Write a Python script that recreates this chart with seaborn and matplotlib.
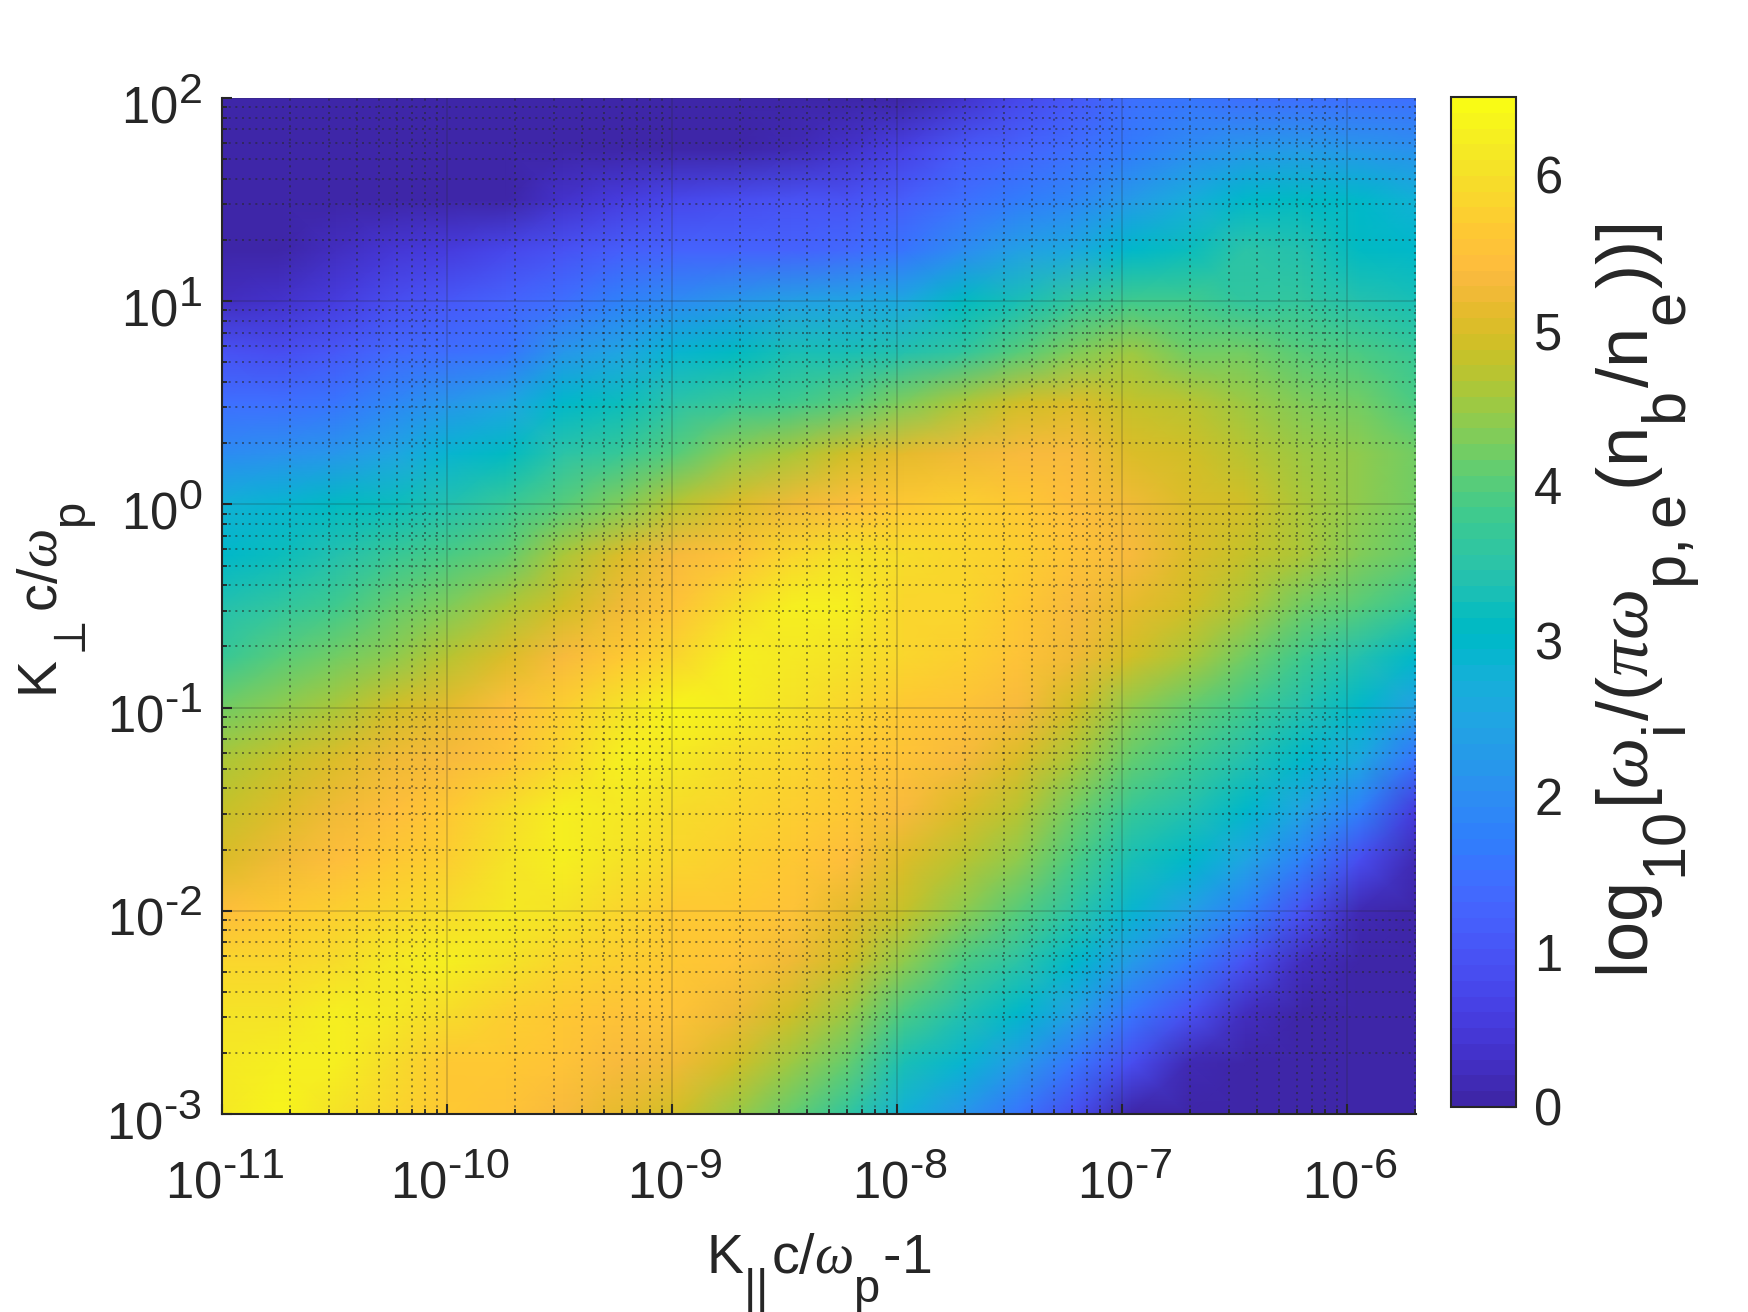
import numpy as np
import matplotlib
matplotlib.use("Agg")
import matplotlib.pyplot as plt
import matplotlib._mathtext as mathtext_internals
from matplotlib.colors import ListedColormap
from matplotlib.transforms import ScaledTranslation
import seaborn as sns

# log10 of the x and y ranges that the read positions span evenly
x_first, x_last = -11.0, -5.693
y_first, y_last = -3.0, 2.0

# colour value: each row runs left to right, rows bottom to top
row_m300 = [6.1,6.3,6.0,5.8,5.6,5.5,5.3,5.1,4.9,4.5,4.1,3.6,2.8,2.2,1.6,0.9,0.1,0,0,0,0,0]
row_m275 = [6.1,6.2,6.2,5.9,5.6,5.6,5.5,5.3,5.2,4.9,4.5,4.1,3.3,2.9,2.3,1.6,0.9,0.2,0,0,0,0]
row_m250 = [6.0,6.0,6.2,6.1,5.9,5.7,5.6,5.5,5.5,5.2,4.9,4.5,3.9,3.4,3.0,2.4,1.6,1.0,0.3,0,0,0]
row_m225 = [5.8,5.8,5.9,6.1,6.2,6.0,5.8,5.7,5.6,5.5,5.2,4.9,4.4,3.9,3.5,3.0,2.3,1.7,1.0,0.3,0,0]
row_m200 = [5.4,5.6,5.7,5.8,5.9,6.1,6.0,5.8,5.6,5.6,5.5,5.1,4.8,4.4,4.0,3.5,2.9,2.4,1.8,1.0,0.2,0]
row_m175 = [5.0,5.2,5.4,5.6,5.7,6.0,6.2,6.0,5.8,5.7,5.6,5.4,5.0,4.7,4.4,3.9,3.3,3.0,2.5,1.8,0.9,0.2]
row_m150 = [4.8,5.0,5.2,5.4,5.6,5.9,6.2,6.1,5.9,5.8,5.7,5.6,5.3,5.0,4.7,4.2,3.7,3.4,3.0,2.5,1.8,0.6]
row_m125 = [4.6,4.8,5.0,5.2,5.3,5.5,5.8,6.2,6.1,5.9,5.8,5.6,5.5,5.3,5.0,4.6,4.1,3.8,3.4,3.0,2.6,1.6]
row_m100 = [4.2,4.4,4.6,4.9,5.1,5.4,5.7,6.0,6.3,6.2,6.0,5.8,5.6,5.5,5.3,4.9,4.4,4.1,3.8,3.4,3.0,2.4]
row_m075 = [3.7,4.0,4.2,4.4,4.7,5.0,5.3,5.6,5.8,6.2,6.1,6.0,5.8,5.7,5.5,5.2,4.9,4.6,4.2,3.8,3.4,3.0]
row_m050 = [3.4,3.6,3.8,4.1,4.3,4.6,4.9,5.2,5.5,5.9,6.2,6.2,5.8,5.8,5.6,5.3,5.1,4.9,4.6,4.2,4.0,3.7]
row_m025 = [3.0,3.2,3.4,3.7,3.9,4.1,4.6,5.0,5.3,5.5,5.8,6.0,5.9,5.8,5.7,5.5,5.3,5.0,4.8,4.6,4.3,4.1]
row_p000 = [2.8,2.9,3.1,3.2,3.4,3.7,4.0,4.3,4.7,5.0,5.2,5.4,5.6,5.7,5.6,5.4,5.2,5.0,4.9,4.6,4.4,4.2]
row_p025 = [2.0,2.1,2.2,2.5,2.9,3.1,3.5,3.7,4.0,4.4,4.6,4.9,5.1,5.2,5.3,5.3,5.0,4.9,4.7,4.5,4.4,4.2]
row_p050 = [1.5,1.5,1.6,1.9,2.2,2.5,3.0,3.2,3.5,3.7,3.8,4.0,4.3,4.6,4.9,5.0,4.8,4.7,4.5,4.3,4.2,3.9]
row_p075 = [1.0,0.9,1.1,1.4,1.5,1.6,2.2,2.5,2.9,3.1,3.3,3.3,3.4,3.6,4.0,4.3,4.5,4.2,4.2,4.0,3.9,3.7]
row_p100 = [0.3,0.4,0.6,0.9,1.1,1.3,1.5,1.8,2.0,2.2,2.4,2.5,2.6,3.1,3.3,3.6,3.8,3.8,3.6,3.6,3.4,3.3]
row_p125 = [0,0.1,0.3,0.5,0.6,0.8,1.0,1.2,1.3,1.3,1.3,1.4,1.6,2.0,2.4,2.6,3.0,3.2,3.5,3.4,3.1,3.0]
row_p150 = [0,0,0,0,0,0.1,0.4,0.6,0.8,0.9,1.0,1.0,1.2,1.5,1.7,1.9,2.3,2.7,3.0,3.1,3.0,2.8]
row_p175 = [0,0,0,0,0,0,0,0,0,0.1,0.2,0.4,0.7,1.1,1.3,1.5,1.7,2.0,2.2,2.3,2.2,2.1]
row_p200 = [0,0,0,0,0,0,0,0,0,0,0,0,0.1,0.4,0.8,1.1,1.5,1.6,1.5,1.5,1.5,1.5]

rows = [row_m300,row_m275,row_m250,row_m225,row_m200,row_m175,row_m150,row_m125,row_m100,
        row_m075,row_m050,row_m025,row_p000,row_p025,row_p050,row_p075,row_p100,row_p125,
        row_p150,row_p175,row_p200]

x_major = [-11,-10,-9,-8,-7,-6]
x_major_labels = ['\u201011','\u201010','\u20109','\u20108','\u20107','\u20106']
y_major = [-3,-2,-1,0,1,2]
y_major_labels = ['\u20103','\u20102','\u20101','0','1','2']
cbar_ticks = [0,1,2,3,4,5,6]

parula = ListedColormap([
 (.2422,.1504,.6603),(.2504,.1650,.7076),(.2578,.1818,.7511),(.2647,.1978,.7952),
 (.2706,.2147,.8364),(.2751,.2342,.8710),(.2783,.2559,.8991),(.2803,.2782,.9221),
 (.2813,.3006,.9414),(.2810,.3228,.9579),(.2795,.3447,.9717),(.2760,.3667,.9829),
 (.2699,.3892,.9906),(.2602,.4123,.9952),(.2440,.4358,.9988),(.2206,.4603,.9973),
 (.1963,.4847,.9892),(.1834,.5074,.9798),(.1786,.5289,.9682),(.1764,.5499,.9520),
 (.1687,.5703,.9359),(.1540,.5902,.9218),(.1460,.6091,.9079),(.1380,.6276,.8973),
 (.1248,.6459,.8883),(.1113,.6635,.8763),(.0952,.6798,.8598),(.0689,.6948,.8394),
 (.0297,.7082,.8163),(.0036,.7203,.7917),(.0067,.7312,.7660),(.0433,.7411,.7394),
 (.0964,.7500,.7120),(.1408,.7584,.6842),(.1717,.7670,.6554),(.1938,.7758,.6251),
 (.2161,.7843,.5923),(.2470,.7918,.5567),(.2906,.7973,.5188),(.3406,.8008,.4789),
 (.3909,.8029,.4354),(.4456,.8024,.3909),(.5044,.7993,.3480),(.5616,.7942,.3045),
 (.6174,.7876,.2612),(.6720,.7793,.2227),(.7242,.7698,.1910),(.7738,.7598,.1646),
 (.8203,.7498,.1535),(.8634,.7406,.1596),(.9035,.7330,.1774),(.9393,.7288,.2099),
 (.9728,.7298,.2394),(.9956,.7434,.2371),(.9970,.7659,.2199),(.9952,.7861,.1991),
 (.9892,.8135,.1885),(.9786,.8386,.1766),(.9676,.8639,.1643),(.9610,.8890,.1537),
 (.9597,.9135,.1423),(.9628,.9373,.1265),(.9691,.9606,.1064),(.9769,.9839,.0805)])

INK = '#262626'
sns.set_theme(style='white')
plt.rcParams.update({
    'font.family': ['Liberation Sans', 'DejaVu Sans'],
    'mathtext.fontset': 'custom',
    'mathtext.rm': 'Liberation Sans',
    'mathtext.it': 'Liberation Serif:italic',
    'mathtext.bf': 'Liberation Sans:bold',
    'mathtext.default': 'rm',
    'text.color': INK,
})
# MATLAB-style large, far-dropped scripts
mathtext_internals.SHRINK_FACTOR = 0.85
mathtext_internals.FontConstantsBase.sub1 = 1.0
mathtext_internals.FontConstantsBase.subdrop = 0.37
mathtext_internals.FontConstantsBase.script_space = 0.1

W, H = 1748, 1312
fig = plt.figure(figsize=(W/100, H/100), dpi=100)
def box(l, t, r, b):
    return [l/W, 1-b/H, (r-l)/W, (b-t)/H]
ax = fig.add_axes(box(222, 98, 1416, 1114))
cax = fig.add_axes(box(1451, 97, 1516, 1107))

data = np.array(rows)
n_rows, n_cols = data.shape
sns.heatmap(data, ax=ax, cbar_ax=cax, cmap=parula, vmin=0, vmax=6.5,
            shading='gouraud', xticklabels=False, yticklabels=False,
            cbar_kws={'ticks': cbar_ticks})

ax.set_xlim(0, n_cols-1)
ax.set_ylim(0, n_rows-1)

def xpos(e):
    return (np.asarray(e, float)-x_first)/(x_last-x_first)*(n_cols-1)
def ypos(e):
    return (np.asarray(e, float)-y_first)/(y_last-y_first)*(n_rows-1)

minor_mult = np.log10(np.arange(2, 10))
x_minor = [d+m for d in range(-11, -5) for m in minor_mult if d+m <= x_last+0.002]
y_minor = [d+m for d in range(-3, 2) for m in minor_mult]

ax.set_xticks(xpos(x_major), [f'$10^{{{s}}}$' for s in x_major_labels])
ax.set_yticks(ypos(y_major), [f'$10^{{{s}}}$' for s in y_major_labels])
ax.set_xticks(xpos(x_minor), minor=True)
ax.set_yticks(ypos(y_minor), minor=True)
ax.tick_params(axis='both', which='major', direction='in', length=7.2, width=1.5,
               color=INK, labelsize=36.5, labelcolor=INK, left=True, bottom=True, rotation=0)
ax.tick_params(axis='both', which='minor', direction='in', length=3.6, width=1.3,
               color=INK, left=True, bottom=True)
ax.tick_params(axis='x', which='major', pad=60.5)
ax.tick_params(axis='y', which='major', pad=14.4)
ax.set_axisbelow(False)
ax.grid(True, which='major', color=INK, linewidth=1.3, alpha=0.2, linestyle='-')
ax.grid(True, which='minor', color=INK, linewidth=1.2, alpha=0.62, linestyle=(0, (1.2, 2.8)))
for side in ('left', 'bottom'):
    ax.spines[side].set_visible(True)
    ax.spines[side].set_color(INK)
    ax.spines[side].set_linewidth(1.5)
for side in ('top', 'right'):
    ax.spines[side].set_visible(False)

for lab in ax.get_xticklabels():
    lab.set_verticalalignment('baseline')
    lab.set_transform(lab.get_transform() + ScaledTranslation(3/100, 0, fig.dpi_scale_trans))
for lab in ax.get_yticklabels():
    lab.set_verticalalignment('baseline')
    lab.set_transform(lab.get_transform() + ScaledTranslation(0, -25/100, fig.dpi_scale_trans))

cb = ax.collections[0].colorbar
cb.outline.set_visible(True)
cb.outline.set_edgecolor(INK)
cb.outline.set_linewidth(1.5)
cb.ax.tick_params(direction='in', length=8, width=1.5, color=INK,
                  labelsize=36.5, labelcolor=INK, right=True, pad=13)

fig.text(819/W, 1-1273/H, r'$K_{||}c/\mathit{\omega}_p$-1', ha='center', va='baseline', fontsize=40, color=INK)
fig.text(57/W, 1-600/H, r'$K_{\perp}c/\mathit{\omega}_p$', ha='center', va='baseline', rotation=90,
         rotation_mode='anchor', fontsize=40, color=INK)
fig.text(1649/W, 1-601/H, r'$log_{10}[\mathit{\omega}_i/(\mathit{\pi}\mathit{\omega}_{p,e}(n_b/n_e))]$',
         ha='center', va='baseline', rotation=90, rotation_mode='anchor', fontsize=52, color=INK)

fig.savefig('out.png', dpi=100)
